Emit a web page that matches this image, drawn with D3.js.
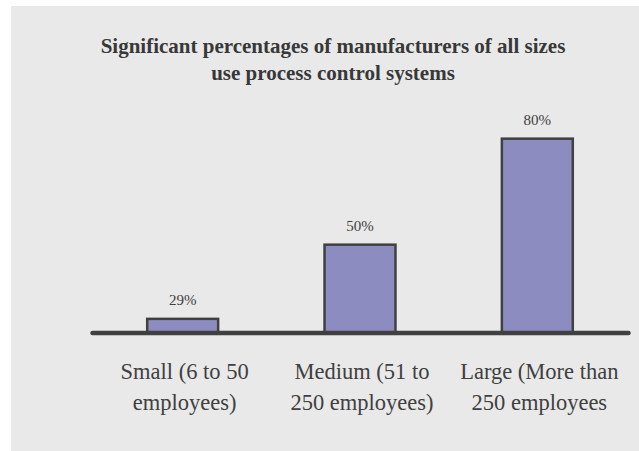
<!DOCTYPE html>
<html>
<head>
<meta charset="utf-8">
<script src="https://cdn.jsdelivr.net/npm/d3@7"></script>
<style>
  html, body { margin: 0; padding: 0; background: #ffffff; }
  svg { display: block; }
</style>
</head>
<body>
<script>
// Share of manufacturers using process control systems, by company size
const categories = [
  ["Small (6 to 50", "employees)"],
  ["Medium (51 to", "250 employees)"],
  ["Large (More than", "250 employees"]
];
const values = [29, 50, 80];
const valueLabels = ["29%", "50%", "80%"];
const titleLines = [
  "Significant percentages of manufacturers of all sizes",
  "use process control systems"
];

const W = 639, H = 451;
const serif = "'Liberation Serif', 'Times New Roman', Times, serif";
const ink = "#404040";

const svg = d3.select("body").append("svg")
  .attr("width", W).attr("height", H);

// panel background
svg.append("rect")
  .attr("x", 11).attr("y", 6)
  .attr("width", W - 11).attr("height", H - 6)
  .attr("fill", "#e9e9e9");

// title
svg.append("text")
  .attr("font-family", serif)
  .attr("font-weight", "bold")
  .attr("font-size", 21)
  .attr("fill", "#383838")
  .attr("text-anchor", "middle")
  .selectAll("tspan")
  .data(titleLines)
  .join("tspan")
  .attr("x", 333)
  .attr("y", (d, i) => 52.5 + i * 27.5)
  .text(d => d);

const x = d3.scaleBand()
  .domain(d3.range(values.length))
  .range([94, 626])
  .paddingInner(0.6)
  .paddingOuter(0.3);

// value axis starts at 25%
const y = d3.scaleLinear()
  .domain([25, 85])
  .range([333, 121]);

// bars
svg.append("g")
  .selectAll("rect")
  .data(values)
  .join("rect")
  .attr("x", (d, i) => x(i))
  .attr("width", x.bandwidth())
  .attr("y", d => y(d))
  .attr("height", d => y.range()[0] - y(d))
  .attr("fill", "#8c8cc0")
  .attr("stroke", ink)
  .attr("stroke-width", 2.5);

// value labels
svg.append("g")
  .selectAll("text")
  .data(values)
  .join("text")
  .attr("x", (d, i) => x(i) + x.bandwidth() / 2)
  .attr("y", d => y(d) - 14)
  .attr("text-anchor", "middle")
  .attr("font-family", serif)
  .attr("font-size", 15)
  .attr("fill", ink)
  .text((d, i) => valueLabels[i]);

// baseline
svg.append("line")
  .attr("x1", x.range()[0] - 1.5)
  .attr("x2", x.range()[1] + 2.5)
  .attr("y1", y.range()[0])
  .attr("y2", y.range()[0])
  .attr("stroke", ink)
  .attr("stroke-width", 4.5)
  .attr("stroke-linecap", "round");

// category labels
const cat = svg.append("g")
  .selectAll("text")
  .data(categories)
  .join("text")
  .attr("text-anchor", "middle")
  .attr("font-family", serif)
  .attr("font-size", 22.5)
  .attr("fill", ink);

cat.selectAll("tspan")
  .data((d, i) => d.map(line => ({ line, i })))
  .join("tspan")
  .attr("x", d => x(d.i) + x.bandwidth() / 2 + 2)
  .attr("y", (d, j) => 379 + j * 31)
  .text(d => d.line);
</script>
</body>
</html>
